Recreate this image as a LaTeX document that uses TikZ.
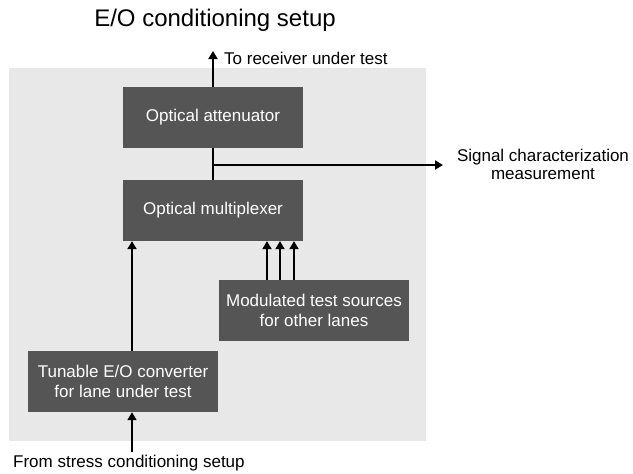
\documentclass[tikz,border=0pt]{standalone}
\usepackage{fontspec}
\setmainfont{Liberation Sans}
\usepackage{tikz}
\usetikzlibrary{positioning, arrows.meta}
\definecolor{boxgray}{HTML}{555555}
\definecolor{panelgray}{HTML}{E8E8E8}
\tikzset{
flow/.style={-{Triangle[length=8pt,width=9pt]}, line width=1.8pt}, % arrows carrying the signal
wire/.style={line width=1.8pt}, % plain connection, no head
block/.style={fill=boxgray, text=white, minimum height=61pt, align=center, font=\fontsize{17}{20.5}\selectfont}, % dark blocks
note/.style={inner sep=0pt, align=center, font=\fontsize{17}{17.5}\selectfont}, % text outside the blocks
}

\begin{document}
\begin{tikzpicture}[x=1pt, y=-1pt]

            \useasboundingbox (0,0) rectangle (633,474);
            \fill[panelgray] (9,68) rectangle (426,441);

            \node[inner sep=0pt, font=\fontsize{24}{28}\selectfont] (title) at (215,20) {E/O conditioning setup};

            \node[block, minimum width=180pt] (att) at (213,117.5) {Optical attenuator};
            \node[block, minimum width=180pt, below=31.5pt of att] (mux) {Optical multiplexer};
            \node[block, minimum width=190pt] (src) at (314,310.5) {Modulated test sources\\for other lanes};
            \node[block, minimum width=190pt] (tun) at (123,381.5) {Tunable E/O converter\\for lane under test};

            \node[note, anchor=west] (rx) at (224,58) {To receiver under test};
            \node[note] (meas) at (543,164.5) {Signal characterization\\measurement};
            \node[note, anchor=west] (stress) at (13,463) {From stress conditioning setup};

            \coordinate (out) at (213,51);
            \coordinate (tip) at (443,165);
            \coordinate (lane) at (132,0);
            \coordinate (feed) at (132,452);

            \draw[flow] (att.north) -- (out);
            \draw[wire] (att.south) -- (mux.north);
            \draw[flow] (att.south |- tip) -- (tip);
            \draw[flow] (lane |- tun.north) -- (lane |- mux.south);
            \draw[flow] (feed) -- (lane |- tun.south);
            \foreach \x in {267,280,294} {
                \coordinate (m) at (\x,0);
                \draw[flow] (m |- src.north) -- (m |- mux.south);
            }
        \end{tikzpicture}
\end{document}
